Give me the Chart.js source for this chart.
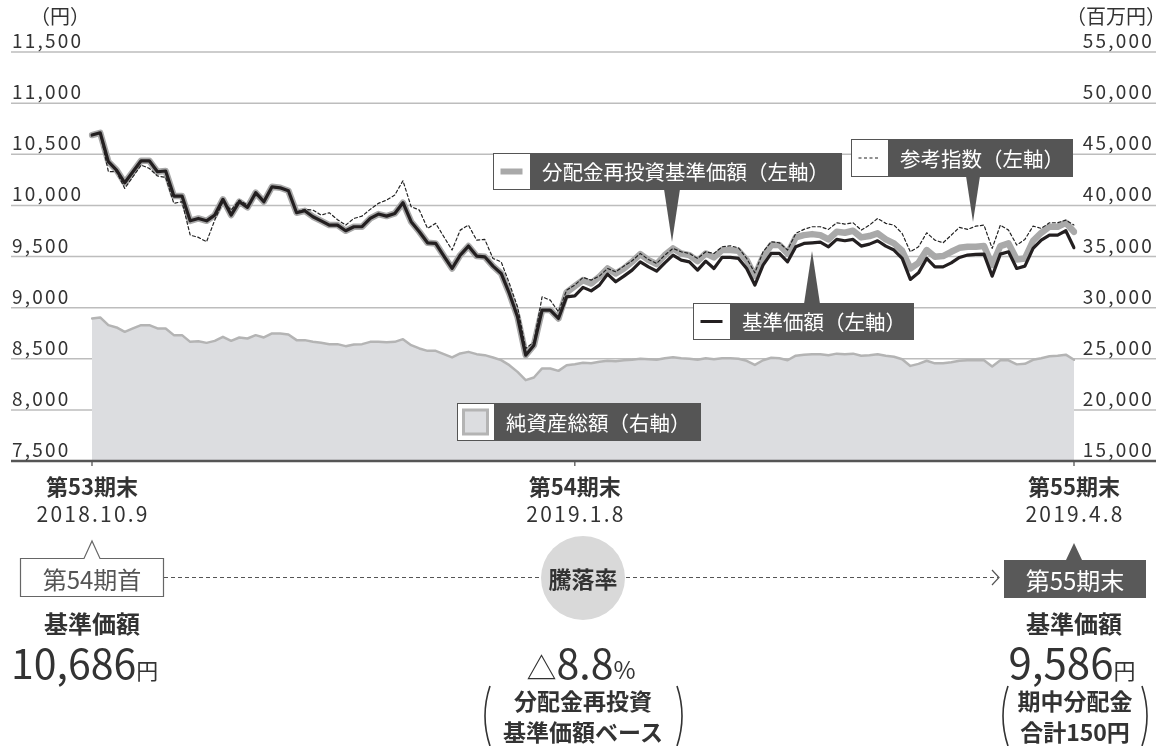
<!DOCTYPE html>
<html lang="ja">
<head>
<meta charset="UTF-8">
<title>基準価額等の推移</title>
<script src="https://cdn.jsdelivr.net/npm/chart.js"></script>
<style>
  body { margin: 0; background: #fff; }
  .wrap { position: relative; width: 1165px; height: 746px; overflow: hidden; }
  #chart, #under { position: absolute; left: 0; top: 0; }
  #under text { font-family: "Noto Sans CJK JP", sans-serif; fill: #333; }
</style>
</head>
<body>
<div class="wrap">
  <canvas id="chart" width="1165" height="746"></canvas>
  <svg id="under" width="1165" height="746" viewBox="0 0 1165 746">
    <!-- 期首から期末への点線 -->
    <line x1="164" y1="577.5" x2="998" y2="577.5" stroke="#555" stroke-width="1.2" stroke-dasharray="4 3"/>
    <polyline points="992,570 999,577.5 992,585" fill="none" stroke="#555" stroke-width="1.2"/>

    <path d="M20.5 558.5 H84 L92 541 L100 558.5 H163.5 V596.5 H20.5 Z" fill="#fff" stroke="#666" stroke-width="1.2"/>
    <text x="92" y="578" text-anchor="middle" dominant-baseline="central" font-size="24" style="fill:#555">第54期首</text>

    <circle cx="583" cy="578" r="42" fill="#d9d9d9"/>
    <text x="583" y="578" text-anchor="middle" dominant-baseline="central" font-size="23" font-weight="bold">騰落率</text>

    <path d="M1004 560 H1066 L1074 543 L1082 560 H1146 V598 H1004 Z" fill="#595959"/>
    <text x="1075" y="579" text-anchor="middle" dominant-baseline="central" font-size="24" style="fill:#fff">第55期末</text>

    <text x="92" y="622" text-anchor="middle" dominant-baseline="central" font-size="24" font-weight="bold">基準価額</text>
    <text x="1074" y="622" text-anchor="middle" dominant-baseline="central" font-size="24" font-weight="bold">基準価額</text>

    <text x="11" y="679" font-size="41">10,686<tspan font-size="22">円</tspan></text>
    <text x="581" y="679" text-anchor="middle" font-size="41"><tspan font-size="30">△</tspan>8.8<tspan font-size="24">%</tspan></text>
    <text x="1072" y="679" text-anchor="middle" font-size="42">9,586<tspan font-size="22">円</tspan></text>

    <text x="583" y="700" text-anchor="middle" dominant-baseline="central" font-size="23" font-weight="bold">分配金再投資</text>
    <text x="583" y="731" text-anchor="middle" dominant-baseline="central" font-size="23" font-weight="bold">基準価額ベース</text>
    <path d="M490 686 Q480 716 490 746" fill="none" stroke="#333" stroke-width="1.6"/>
    <path d="M677 686 Q687 716 677 746" fill="none" stroke="#333" stroke-width="1.6"/>

    <text x="1075" y="700" text-anchor="middle" dominant-baseline="central" font-size="23" font-weight="bold">期中分配金</text>
    <text x="1075" y="731" text-anchor="middle" dominant-baseline="central" font-size="23" font-weight="bold">合計150円</text>
    <path d="M1008 686 Q998 716 1008 746" fill="none" stroke="#333" stroke-width="1.6"/>
    <path d="M1142 686 Q1152 716 1142 746" fill="none" stroke="#333" stroke-width="1.6"/>
  </svg>
</div>

<script>
// 基準価額（円）
const navPrice = [
  10688, 10710, 10427, 10345, 10221, 10329, 10436, 10436, 10329, 10336,
  10091, 10091, 9849, 9872, 9849, 9905, 10059, 9905, 10036, 9980,
  10124, 10036, 10182, 10172, 10143, 9928, 9947, 9889, 9849, 9807,
  9807, 9752, 9791, 9791, 9872, 9915, 9895, 9921, 10026, 9840,
  9742, 9634, 9628, 9504, 9383, 9514, 9602, 9504, 9497, 9406,
  9334, 9139, 8910, 8535, 8633, 8976, 8976, 8894, 9106, 9115,
  9198, 9164, 9220, 9328, 9253, 9308, 9367, 9448, 9399, 9357,
  9438, 9514, 9465, 9448, 9367, 9455, 9383, 9491, 9491, 9481,
  9383, 9220, 9416, 9530, 9530, 9448, 9595, 9628, 9634, 9640,
  9595, 9667, 9654, 9667, 9602, 9621, 9654, 9602, 9563, 9481,
  9276, 9340, 9481, 9399, 9399, 9438, 9491, 9514, 9520, 9523,
  9308, 9523, 9546, 9383, 9406, 9579, 9660, 9709, 9709, 9752,
  9586
];

// 分配金再投資基準価額（円）
const reinvested = [
  10688, 10710, 10427, 10345, 10221, 10329, 10436, 10436, 10329, 10336,
  10091, 10091, 9849, 9872, 9849, 9905, 10059, 9905, 10036, 9980,
  10124, 10036, 10182, 10172, 10143, 9928, 9947, 9889, 9849, 9807,
  9807, 9752, 9791, 9791, 9872, 9915, 9895, 9921, 10026, 9840,
  9742, 9634, 9628, 9504, 9383, 9514, 9602, 9504, 9497, 9406,
  9334, 9139, 8910, 8535, 8633, 8976, 8976, 8894, 9150, 9210,
  9269, 9237, 9302, 9383, 9334, 9383, 9448, 9523, 9465, 9426,
  9514, 9579, 9530, 9514, 9455, 9530, 9491, 9563, 9563, 9556,
  9465, 9308, 9497, 9612, 9612, 9530, 9687, 9709, 9719, 9709,
  9667, 9742, 9732, 9752, 9687, 9700, 9726, 9667, 9628, 9556,
  9383, 9438, 9563, 9497, 9504, 9546, 9585, 9595, 9595, 9602,
  9416, 9602, 9628, 9471, 9481, 9654, 9732, 9791, 9791, 9830,
  9742
];

// 参考指数
const refIndex = [
  10690, 10705, 10330, 10330, 10166, 10280, 10394, 10362, 10287, 10274,
  10020, 10036, 9709, 9687, 9644, 9856, 10036, 9954, 10052, 10003,
  10101, 10052, 10175, 10165, 10140, 9935, 9960, 9954, 9905, 9928,
  9860, 9807, 9872, 9895, 9961, 10020, 10052, 10101, 10241, 9987,
  9954, 9775, 9824, 9693, 9563, 9758, 9807, 9660, 9667, 9481,
  9448, 9237, 9008, 8600, 8665, 9106, 9073, 8959, 9171, 9220,
  9295, 9269, 9308, 9383, 9350, 9406, 9458, 9530, 9471, 9432,
  9514, 9579, 9546, 9530, 9481, 9546, 9530, 9595, 9605, 9585,
  9481, 9340, 9546, 9644, 9634, 9563, 9726, 9765, 9791, 9791,
  9765, 9830, 9817, 9830, 9758, 9807, 9872, 9824, 9807, 9726,
  9546, 9595, 9732, 9660, 9634, 9709, 9785, 9765, 9797, 9807,
  9579, 9807, 9758, 9612, 9667, 9797, 9775, 9830, 9830, 9856,
  9807
];

// 純資産総額（百万円）
const netAssets = [
  28942, 29040, 28287, 28062, 27631, 27964, 28287, 28287, 27964, 27964,
  27308, 27308, 26653, 26720, 26555, 26751, 27142, 26751, 27081, 26980,
  27308, 27081, 27475, 27475, 27376, 26819, 26819, 26653, 26555, 26428,
  26428, 26232, 26398, 26428, 26653, 26653, 26620, 26653, 26917, 26330,
  26007, 25772, 25772, 25449, 25126, 25518, 25674, 25449, 25351, 25126,
  24862, 24373, 23717, 22906, 23169, 24050, 24050, 23815, 24373, 24470,
  24600, 24550, 24700, 24800, 24750, 24850, 24900, 25000, 24950, 24900,
  25050, 25150, 25050, 25000, 24900, 25050, 24950, 25050, 25050, 25000,
  24800, 24400, 24850, 25100, 25050, 24850, 25300, 25400, 25450, 25450,
  25350, 25500, 25450, 25500, 25300, 25350, 25450, 25300, 25200, 24950,
  24300, 24500, 24800, 24550, 24550, 24650, 24800, 24850, 24850, 24850,
  24250, 24850, 24850, 24450, 24500, 24900, 25050, 25250, 25300, 25400,
  24900
];

// 目盛
const leftTicks = [7500, 8000, 8500, 9000, 9500, 10000, 10500, 11000, 11500];
const rightTicks = [15000, 20000, 25000, 30000, 35000, 40000, 45000, 50000, 55000];
const xTickIndex = [0, 59, 120];
const xTickPeriod = ['第53期末', '第54期末', '第55期末'];
const xTickDate = ['2018.10.9', '2019.1.8', '2019.4.8'];

const days = navPrice.map((_, i) => i);
const FONT = '"Noto Sans CJK JP", "Noto Sans", sans-serif';

function callout(ctx, c, label, swatch) {
    ctx.fillStyle = '#555';
    ctx.fillRect(c.x, c.y, c.w, c.h);
    // 吹き出しの三角
    ctx.beginPath();
    ctx.moveTo(c.tip[0] - c.tip[2], c.tip[1]);
    ctx.lineTo(c.tip[3], c.tip[4]);
    ctx.lineTo(c.tip[0] + c.tip[2], c.tip[1]);
    ctx.closePath();
    ctx.fill();
    ctx.fillStyle = '#fff';
    ctx.fillRect(c.x + 1, c.y + 1, c.sw - 1, c.h - 2);
    swatch(c.x + c.sw / 2, c.y + c.h / 2);
    ctx.fillStyle = '#fff';
    ctx.font = '20.5px ' + FONT;
    ctx.textAlign = 'left';
    ctx.textBaseline = 'middle';
    ctx.fillText(label, c.x + c.sw + 12, c.y + c.h / 2 + 1);
}

const deco = {
    id: 'deco',
    beforeDatasetsDraw(chart) {
        const ctx = chart.ctx;
        const y = chart.scales.y;
        ctx.save();
        ctx.strokeStyle = '#bdbdbd';
        ctx.lineWidth = 1.5;
        leftTicks.slice(1).forEach(v => {
            const py = y.getPixelForValue(v);
            ctx.beginPath();
            ctx.moveTo(11, py);
            ctx.lineTo(1156, py);
            ctx.stroke();
        });
        ctx.restore();
    },
    afterDatasetsDraw(chart) {
        const ctx = chart.ctx;
        const { x, y, y2 } = chart.scales;
        const area = chart.chartArea;
        const ds = chart.data.datasets;
        ctx.save();

        // 横軸
        ctx.strokeStyle = '#555';
        ctx.lineWidth = 2.4;
        ctx.beginPath();
        ctx.moveTo(11, area.bottom);
        ctx.lineTo(1156, area.bottom);
        ctx.stroke();
        ctx.lineWidth = 1.3;
        xTickIndex.forEach(i => {
            const px = x.getPixelForValue(i);
            ctx.beginPath();
            ctx.moveTo(px, area.bottom);
            ctx.lineTo(px, area.bottom + 5);
            ctx.stroke();
        });

        // 凡例吹き出し
        callout(ctx, { x: 493, y: 153, w: 349, h: 37, sw: 37, tip: [672, 189, 8, 672, 242] }, ds[2].label, (cx, cy) => {
            ctx.strokeStyle = ds[2].borderColor; ctx.lineWidth = 6;
            ctx.beginPath(); ctx.moveTo(cx - 11, cy); ctx.lineTo(cx + 11, cy); ctx.stroke();
        });
        callout(ctx, { x: 851, y: 139, w: 222, h: 38, sw: 37, tip: [973, 176, 7, 973, 222] }, ds[1].label, (cx, cy) => {
            ctx.strokeStyle = '#222'; ctx.lineWidth = 1.2; ctx.setLineDash([3, 2.5]);
            ctx.beginPath(); ctx.moveTo(cx - 11, cy); ctx.lineTo(cx + 11, cy); ctx.stroke();
            ctx.setLineDash([]);
        });
        callout(ctx, { x: 693, y: 303, w: 221, h: 37, sw: 37, tip: [812, 304, 8, 812, 251] }, ds[0].label, (cx, cy) => {
            ctx.strokeStyle = '#231f20'; ctx.lineWidth = 3;
            ctx.beginPath(); ctx.moveTo(cx - 11, cy); ctx.lineTo(cx + 11, cy); ctx.stroke();
        });
        callout(ctx, { x: 457, y: 403, w: 244, h: 38, sw: 37, tip: [0, 0, 0, 0, 0] }, ds[3].label, (cx, cy) => {
            ctx.fillStyle = '#dcdde0'; ctx.fillRect(cx - 12, cy - 12, 24, 24);
            ctx.strokeStyle = '#b4b4b4'; ctx.lineWidth = 3; ctx.strokeRect(cx - 12, cy - 12, 24, 24);
        });

        // 目盛ラベル
        ctx.fillStyle = '#333';
        ctx.font = '19px ' + FONT;
        ctx.letterSpacing = '2.2px';
        ctx.textBaseline = 'alphabetic';
        ctx.textAlign = 'left';
        leftTicks.forEach(v => ctx.fillText(v.toLocaleString('en-US'), 12, y.getPixelForValue(v) - 4));
        ctx.textAlign = 'right';
        rightTicks.forEach(v => ctx.fillText(v.toLocaleString('en-US'), 1154, y2.getPixelForValue(v) - 4));
        ctx.letterSpacing = '0px';
        ctx.font = '20px ' + FONT;
        ctx.textBaseline = 'middle';
        ctx.textAlign = 'left';
        ctx.fillText('（円）', 30, 16);
        ctx.textAlign = 'right';
        ctx.fillText('（百万円）', 1166, 16);

        // 期末ラベル
        ctx.textAlign = 'center';
        xTickIndex.forEach((i, k) => {
            const px = x.getPixelForValue(i);
            ctx.font = 'bold 22px ' + FONT;
            ctx.letterSpacing = '0px';
            ctx.fillText(xTickPeriod[k], px, 487);
            ctx.font = '21px ' + FONT;
            ctx.letterSpacing = '2.2px';
            ctx.fillText(xTickDate[k], px + 1.1, 514);
        });
        ctx.restore();
    }
};

new Chart(document.getElementById('chart'), {
    type: 'line',
    data: {
        labels: days,
        datasets: [
            {
                label: '基準価額（左軸）',
                data: navPrice,
                yAxisID: 'y',
                borderColor: '#231f20',
                borderWidth: 3.2,
                order: 0
            },
            {
                label: '参考指数（左軸）',
                data: refIndex,
                yAxisID: 'y',
                borderColor: '#222',
                borderWidth: 1.2,
                borderDash: [3, 2.5],
                order: 1
            },
            {
                label: '分配金再投資基準価額（左軸）',
                data: reinvested,
                yAxisID: 'y',
                borderColor: '#a9a9a9',
                borderWidth: 6.5,
                order: 2
            },
            {
                label: '純資産総額（右軸）',
                data: netAssets,
                yAxisID: 'y2',
                borderColor: '#b4b4b4',
                borderWidth: 2.5,
                backgroundColor: '#dcdde0',
                fill: 'start',
                order: 3
            }
        ]
    },
    options: {
        responsive: false,
        animation: false,
        layout: { padding: { left: 92, right: 91, top: 52, bottom: 285 } },
        elements: {
            point: { radius: 0 },
            line: { tension: 0, borderJoinStyle: 'round', borderCapStyle: 'round' }
        },
        plugins: { legend: { display: false }, tooltip: { enabled: false } },
        scales: {
            x: { display: false },
            y: { display: false, min: 7500, max: 11500 },
            y2: { display: false, position: 'right', min: 15000, max: 55000 }
        }
    },
    plugins: [deco]
});
</script>
</body>
</html>
